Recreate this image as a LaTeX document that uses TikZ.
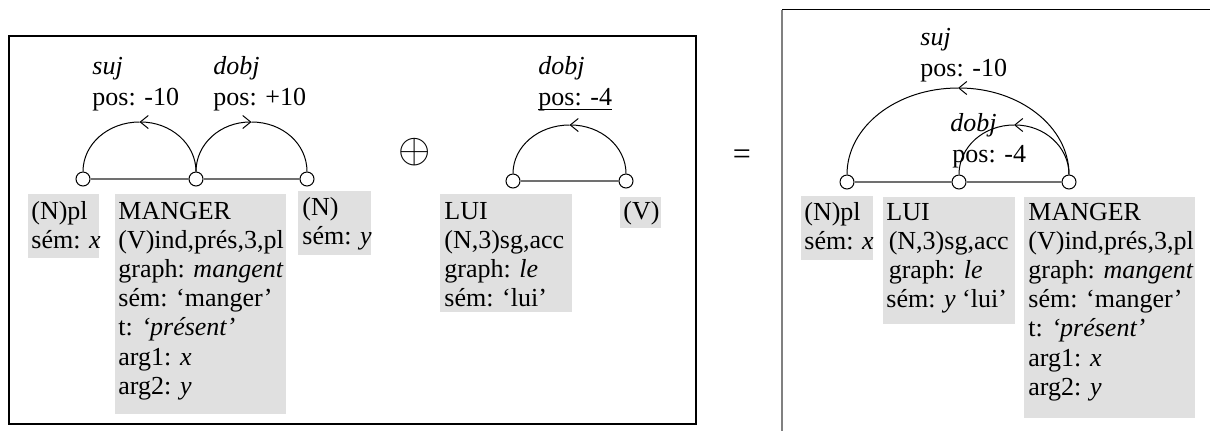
\documentclass[tikz,border=0pt]{standalone}
\usepackage{fontspec}
\setmainfont{Liberation Serif}
\usetikzlibrary{arrows.meta,fit}
\newcommand\flines[1]{\begin{tabular}[t]{@{}l@{}}#1\end{tabular}}
\definecolor{boxgray}{HTML}{E0E0E0}
\definecolor{linegray}{HTML}{707070}
\definecolor{framegray}{HTML}{808080}
\begin{document}
\begin{tikzpicture}[x=0.5pt,y=-0.5pt,
  txt/.style={inner sep=0pt, anchor=base west, font=\fontsize{13}{14.6}\selectfont},
  gbox/.style={fill=boxgray, draw=none, inner sep=0pt},
  vtx/.style={circle, draw=black, fill=white, line width=0.5pt, minimum size=7pt, inner sep=0pt},
  hline/.style={draw=linegray, line width=0.75pt},
  arcline/.style={draw=black, line width=0.5pt},
  tipped/.style={arcline, -{Straight Barb[length=4pt,width=6.5pt,line width=0.5pt]}},
  frame/.style={draw=black, line width=0.75pt}]
\useasboundingbox (0,0) rectangle (1210,430);

% frames
\node[frame, fit={(9,36) (696,424)}, inner sep=0pt] (frameL) {};
\coordinate (fRbot) at (782,431);
\coordinate (fRtop) at (782,9.5);
\coordinate (fRright) at (1211,9.5);
\draw[draw=framegray, line width=1pt] (fRbot) -- (fRtop);
\draw[line width=0.75pt] (fRtop) -- (fRright);

% ===== left structure =====
\node[gbox, fit={(28,194) (99,258)}] (bNpl) {};
\node[txt] (tNpl) at (31,219) {\flines{(N)pl\\sém: \textit{x}}};
\node[gbox, fit={(115,194) (286,414)}] (bMang) {};
\node[txt] (tMang) at (118,219) {\flines{MANGER\\(V)ind,prés,3,pl\\graph: \textit{mangent}\\sém: ‘manger’\\t: \textit{‘présent’}\\arg1: \textit{x}\\arg2: \textit{y}}};
\node[gbox, fit={(298,191) (371,255)}] (bN) {};
\node[txt] (tN) at (302,215) {\flines{(N)\\sém: \textit{y}}};

\node[vtx] (a1) at (83,179) {};
\node[vtx] (a2) at (196,179) {};
\node[vtx] (a3) at (307,179) {};
\draw[hline] (a1) -- (a2);
\draw[hline] (a2) -- (a3);

\coordinate (ta) at (139.5,122);
\coordinate (tb) at (251.5,122);
\draw[tipped] (a2.north) .. controls +(0,-27.6) and +(31.2,0) .. (ta);
\draw[arcline] (ta) .. controls +(-31.2,0) and +(0,-27.6) .. (a1.north);
\draw[tipped] (a2.north) .. controls +(0,-27.6) and +(-31.2,0) .. (tb);
\draw[arcline] (tb) .. controls +(31.2,0) and +(0,-27.6) .. (a3.north);

\node[txt] (lsuj) at (92,74) {\textit{suj}};
\node[txt] (lpos1) at (92,105) {pos: -10};
\node[txt] (ldobj) at (213,74) {\textit{dobj}};
\node[txt] (lpos2) at (213,105) {pos: +10};

% oplus
\node[inner sep=0pt, font=\fontsize{20.5}{21}\selectfont] (oplus) at (415,152) {$\oplus$};

% ===== LUI structure =====
\node[gbox, fit={(440,194) (572,312)}] (bLui) {};
\node[txt] (tLui) at (444,219) {\flines{LUI\\(N,3)sg,acc\\graph: \textit{le}\\sém: ‘lui’}};
\node[gbox, fit={(620,197) (661,228)}] (bV) {};
\node[txt] (tV) at (623,219) {(V)};

\node[vtx] (b1) at (513,181) {};
\node[vtx] (b2) at (626,181) {};
\draw[hline] (b1) -- (b2);
\coordinate (tc) at (569.5,125);
\draw[tipped] (b2.north) .. controls +(0,-27) and +(31.2,0) .. (tc);
\draw[arcline] (tc) .. controls +(-31.2,0) and +(0,-27) .. (b1.north);

\node[txt] (ldobj2) at (538,74) {\textit{dobj}};
\node[txt] (lpos3) at (538,105) {pos: -4};
\draw[line width=0.5pt] ([yshift=-2.4pt]lpos3.base west) -- ([yshift=-2.4pt]lpos3.base east);

% equals
\node[inner sep=0pt, font=\fontsize{16}{17}\selectfont] (eq) at (742,157) {=};

% ===== result structure =====
\node[gbox, fit={(801,196) (873,260)}] (cNpl) {};
\node[txt] (uNpl) at (804,220) {\flines{(N)pl\\sém: \textit{x}}};
\node[gbox, fit={(883,197) (1015,324)}] (cLui) {};
\node[txt] (uLui) at (886,220) {\flines{LUI\\\hspace{1.2pt}(N,3)sg,acc\\\hspace{1.2pt}graph: \textit{le}\\sém: \textit{y} ‘lui’}};
\node[gbox, fit={(1024,197) (1195,418)}] (cMang) {};
\node[txt] (uMang) at (1028,220) {\flines{MANGER\\(V)ind,prés,3,pl\\graph: \textit{mangent}\\sém: ‘manger’\\t: \textit{‘présent’}\\arg1: \textit{x}\\arg2: \textit{y}}};

\node[vtx] (c1) at (847,182) {};
\node[vtx] (c2) at (959,182) {};
\node[vtx] (c3) at (1069,182) {};
\draw[hline] (c1) -- (c2);
\draw[hline] (c2) -- (c3);

\coordinate (td) at (958,88);
\coordinate (te) at (1014,125);
\draw[tipped] (c3.north) .. controls +(0,-48) and +(61.3,0) .. (td);
\draw[arcline] (td) .. controls +(-61.3,0) and +(0,-48) .. (c1.north);
\draw[tipped] (c3.north) .. controls +(0,-27.6) and +(30.4,0) .. (te);
\draw[arcline] (te) .. controls +(-30.4,0) and +(0,-27.6) .. (c2.north);

\node[txt] (rsuj) at (920,45) {\textit{suj}};
\node[txt] (rpos1) at (920,76) {pos: -10};
\node[txt] (rdobj) at (950,131) {\textit{dobj}};
\node[txt] (rpos2) at (952,162) {pos: -4};
\end{tikzpicture}
\end{document}
